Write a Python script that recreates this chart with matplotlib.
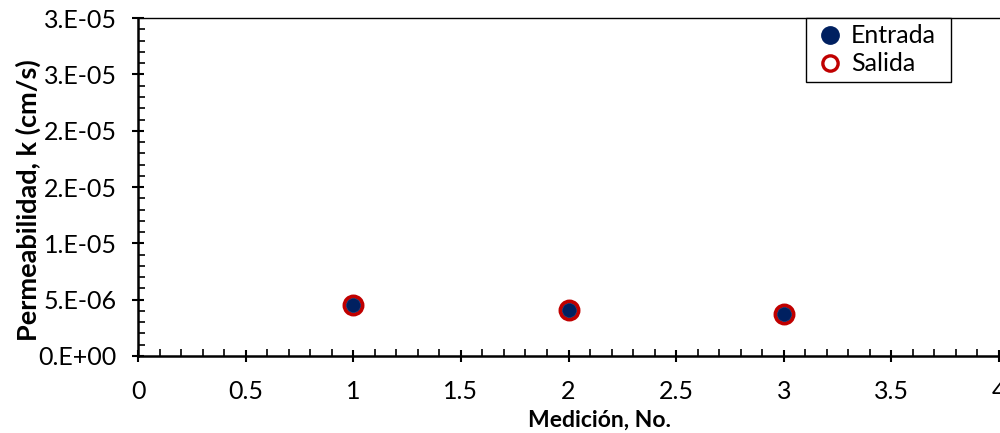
import matplotlib
matplotlib.use("Agg")
import matplotlib.pyplot as plt
from matplotlib.ticker import MultipleLocator, FuncFormatter
from matplotlib.lines import Line2D

medicion = [1, 2, 3]
entrada = [4.56e-6, 4.12e-6, 3.74e-6]
salida = [4.56e-6, 4.12e-6, 3.74e-6]

NAVY = '#002060'
RED = '#C00000'

plt.rcParams['font.family'] = ['Lato', 'DejaVu Sans']

fig = plt.figure(figsize=(10, 4.33), dpi=100)
ax = fig.add_axes([0.138, 0.178, 0.861, 0.780])

ax.plot(medicion, salida, linestyle='none', marker='o', markersize=13,
        markerfacecolor='none', markeredgecolor=RED, markeredgewidth=2.8,
        label='Salida', zorder=3, clip_on=False)
ax.plot(medicion, entrada, linestyle='none', marker='o', markersize=10,
        markerfacecolor=NAVY, markeredgecolor=NAVY, markeredgewidth=0.5,
        label='Entrada', zorder=4, clip_on=False)

ax.set_xlim(0, 4)
ax.set_ylim(0, 3e-5)
ax.xaxis.set_major_locator(MultipleLocator(0.5))
ax.xaxis.set_minor_locator(MultipleLocator(0.1))
ax.yaxis.set_major_locator(MultipleLocator(5e-6))
ax.yaxis.set_minor_locator(MultipleLocator(1e-6))

def xfmt(v, pos):
    return f"{v:g}"

def yfmt(v, pos):
    if abs(v) < 1e-20:
        return "0.E+00"
    s = f"{v:.0E}"
    mant, exp = s.split('E')
    return f"{mant}.E{exp}"

ax.xaxis.set_major_formatter(FuncFormatter(xfmt))
ax.yaxis.set_major_formatter(FuncFormatter(yfmt))

for side in ['left', 'bottom']:
    ax.spines[side].set_linewidth(1.8)
ax.spines['top'].set_linewidth(1.0)
ax.spines['right'].set_visible(False)

ax.tick_params(axis='both', which='major', direction='inout', length=9, width=1.5,
               labelsize=18, colors='black')
ax.tick_params(axis='y', which='major', pad=11)
ax.tick_params(axis='x', which='major', pad=13)
ax.tick_params(axis='both', which='minor', direction='in', length=5, width=1.2)

ax.set_xlabel('Medición, No.', fontsize=16.5, fontweight='bold')
ax.set_ylabel('Permeabilidad, k (cm/s)', fontsize=19.5, fontweight='bold')
ax.xaxis.set_label_coords((600 - 138) / 861, -(420 - 356) / 338, transform=ax.transAxes)
ax.yaxis.set_label_coords(-(138 - 28) / 861, (356 - 200) / 338, transform=ax.transAxes)
ax.xaxis.label.set_va('center')
ax.yaxis.label.set_va('center')

handles = [
    Line2D([], [], linestyle='none', marker='o', markersize=12.5,
           markerfacecolor=NAVY, markeredgecolor=NAVY),
    Line2D([], [], linestyle='none', marker='o', markersize=11,
           markerfacecolor='none', markeredgecolor=RED, markeredgewidth=2.4),
]
leg = ax.legend(handles, ['Entrada', 'Salida'], loc='upper left',
                bbox_to_anchor=((806 - 138) / 861, 0.0, (951 - 806) / 861, 1.0),
                mode='expand', borderaxespad=0, fontsize=18, frameon=True,
                fancybox=False, edgecolor='black', handletextpad=0.15,
                handlelength=1.4, borderpad=0.25, labelspacing=0.2)
leg.get_frame().set_linewidth(1.0)
leg.get_frame().set_alpha(1)

fig.savefig('out.png', dpi=100)
